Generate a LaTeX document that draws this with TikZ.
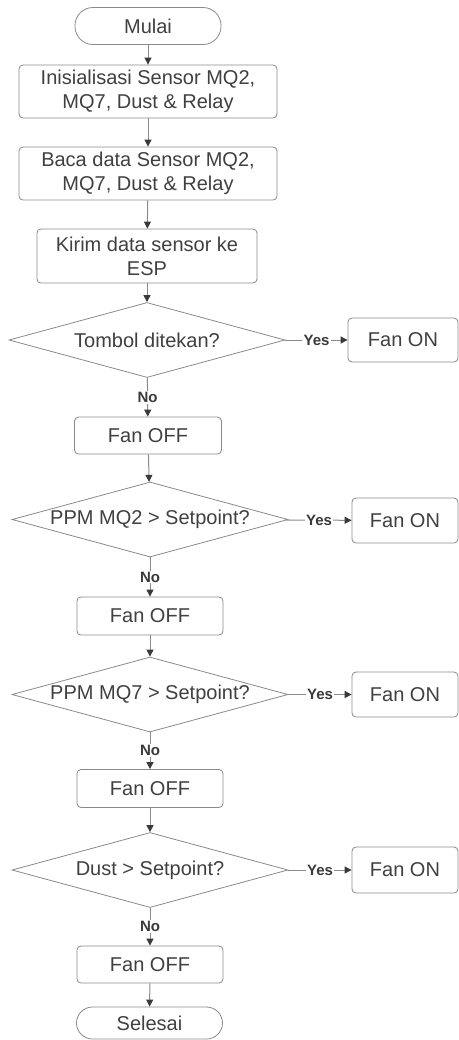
\documentclass[tikz,border=0pt]{standalone}
\usepackage{fontspec}
\setmainfont{Liberation Sans}
\usetikzlibrary{positioning,arrows.meta,shapes.geometric}
\definecolor{lineg}{HTML}{8A8A8A}
\definecolor{textg}{HTML}{404040}
\definecolor{arrg}{HTML}{3A3A3A}

\begin{document}
\begin{tikzpicture}[x=0.5pt, y=-0.5pt,
  proc/.style={draw=lineg, rounded corners=2pt, fill=white, align=center, text=textg, font=\fontsize{10}{12}\selectfont, inner sep=0pt},
  term/.style={draw=lineg, rounded corners=9pt, fill=white, text=textg, font=\fontsize{10}{12}\selectfont, minimum width=73pt, inner sep=0pt},
  dec/.style={draw=lineg, diamond, aspect=3.7, fill=white, text=textg, font=\fontsize{10}{12}\selectfont, minimum width=138pt, minimum height=37.5pt, inner sep=0pt},
  lbl/.style={fill=white, text=arrg, font=\bfseries\fontsize{7.5}{9}\selectfont, inner sep=0.6pt},
  arr/.style={-{Triangle[length=3.5pt, width=3.5pt]}, draw=lineg, line width=0.5pt, arrows={-{Triangle[length=3.5pt, width=3.5pt, fill=arrg, color=arrg]}}}]
\useasboundingbox (0,0) rectangle (459,1040);
\node[term, minimum height=18.5pt] (mulai) at (148,26) {Mulai};
\node[proc, minimum width=129pt, minimum height=26.5pt] (init) at (148,91.5) {Inisialisasi Sensor MQ2,\\MQ7, Dust \& Relay};
\node[proc, minimum width=129pt, minimum height=26.5pt] (baca) at (148,173.5) {Baca data Sensor MQ2,\\MQ7, Dust \& Relay};
\node[proc, minimum width=110pt, minimum height=27pt] (kirim) at (147,256) {Kirim data sensor ke\\ESP};
\node[dec] (tombol) at (147,340) {Tombol ditekan?};
\node[proc, minimum width=55pt, minimum height=22pt] (on1) at (403,340) {Fan ON};
\node[proc, minimum width=73.5pt, minimum height=18.5pt] (off1) at (148,435.5) {Fan OFF};
\node[dec] (mqdua) at (150,519.5) {PPM MQ2 > Setpoint?};
\node[proc, minimum width=53pt, minimum height=22.5pt] (on2) at (405,520.5) {Fan ON};
\node[proc, minimum width=73pt, minimum height=19pt] (off2) at (150,616) {Fan OFF};
\node[dec] (mqtujuh) at (150,694.5) {PPM MQ7 > Setpoint?};
\node[proc, minimum width=53pt, minimum height=22.5pt] (on3) at (405,694.5) {Fan ON};
\node[proc, minimum width=73pt, minimum height=19pt] (off3) at (150,788.5) {Fan OFF};
\node[dec] (dust) at (150,870) {Dust > Setpoint?};
\node[proc, minimum width=53pt, minimum height=23pt] (on4) at (405,870) {Fan ON};
\node[proc, minimum width=73pt, minimum height=18.5pt] (off4) at (150,964.5) {Fan OFF};
\node[term, minimum height=16pt, rounded corners=8pt] (selesai) at (149.5,1023) {Selesai};
\draw[arr] (mulai) -- (init); \draw[arr] (init) -- (baca); \draw[arr] (baca) -- (kirim); \draw[arr] (kirim) -- (tombol);
\draw[arr] (tombol) -- node[lbl]{No} (off1); \draw[arr] (off1) -- (mqdua);
\draw[arr] (mqdua) -- node[lbl]{No} (off2); \draw[arr] (off2) -- (mqtujuh);
\draw[arr] (mqtujuh) -- node[lbl]{No} (off3); \draw[arr] (off3) -- (dust);
\draw[arr] (dust) -- node[lbl]{No} (off4); \draw[arr] (off4) -- (selesai);
\draw[arr] (tombol) -- node[lbl]{Yes} (on1); \draw[arr] (mqdua) -- node[lbl]{Yes} (on2);
\draw[arr] (mqtujuh) -- node[lbl]{Yes} (on3); \draw[arr] (dust) -- node[lbl]{Yes} (on4);
\end{tikzpicture}
\end{document}
